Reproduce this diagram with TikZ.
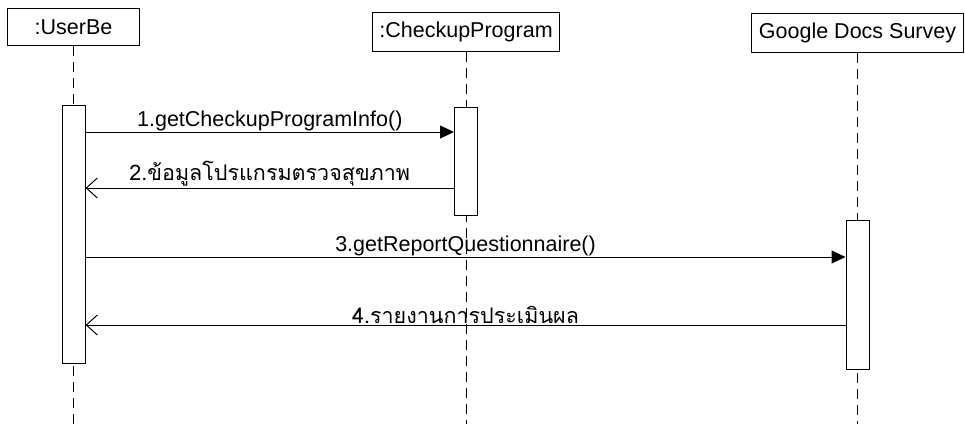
\documentclass[tikz,border=0pt]{standalone}
\usepackage{fontspec}
\setmainfont{Liberation Sans}
\newfontfamily\thaifont[Script=Thai]{Loma}
\usetikzlibrary{arrows.meta}

\begin{document}
\begin{tikzpicture}[x=1pt, y=-1pt, font=\fontsize{21.5}{26}\selectfont,
  objbox/.style={draw, line width=1.1pt, inner sep=0pt, anchor=north west},
  actbar/.style={draw, fill=white, line width=1.1pt, minimum width=23pt, inner sep=0pt, anchor=north},
  lifeline/.style={line width=0.9pt, dash pattern=on 10pt off 6pt},
  callmsg/.style={line width=1pt, -{Triangle[length=14pt,width=13pt]}},
  replymsg/.style={line width=1pt, -{Straight Barb[length=11pt,width=20pt]}}]
\useasboundingbox (0,0) rectangle (965,424);

\node[objbox, minimum width=132pt, minimum height=37pt] (user) at (7,8) {:UserBe};
\node[objbox, minimum width=187pt, minimum height=39pt] (checkup) at (372,12) {:CheckupProgram};
\node[objbox, minimum width=212pt, minimum height=39pt] (gdocs) at (751,13) {Google Docs Survey};

\coordinate (userEnd) at (user.south |- 0,424);
\coordinate (checkupEnd) at (checkup.south |- 0,424);
\coordinate (gdocsEnd) at (gdocs.south |- 0,424);
\draw[lifeline] (user.south) -- (userEnd);
\draw[lifeline] (checkup.south) -- (checkupEnd);
\draw[lifeline] (gdocs.south) -- (gdocsEnd);

\node[actbar, minimum height=258pt] (actU) at (user.south |- 0,105) {};
\node[actbar, minimum height=108pt] (actC) at (checkup.south |- 0,107) {};
\node[actbar, minimum height=149pt] (actG) at (gdocs.south |- 0,220) {};

\draw[callmsg] (actU.east |- 0,132) -- node[above, inner sep=1pt] {1.getCheckupProgramInfo()} (actC.west |- 0,132);
\draw[replymsg] (actC.west |- 0,188) -- node[above, inner sep=1pt] {\thaifont 2.ข้อมูลโปรแกรมตรวจสุขภาพ} (actU.east |- 0,188);
\draw[callmsg] (actU.east |- 0,257) -- node[above, inner sep=1pt] {3.getReportQuestionnaire()} (actG.west |- 0,257);
\draw[replymsg] (actG.west |- 0,325) -- node[above, inner sep=1pt] {\thaifont 4.รายงานการประเมินผล} (actU.east |- 0,325);

\end{tikzpicture}
\end{document}
